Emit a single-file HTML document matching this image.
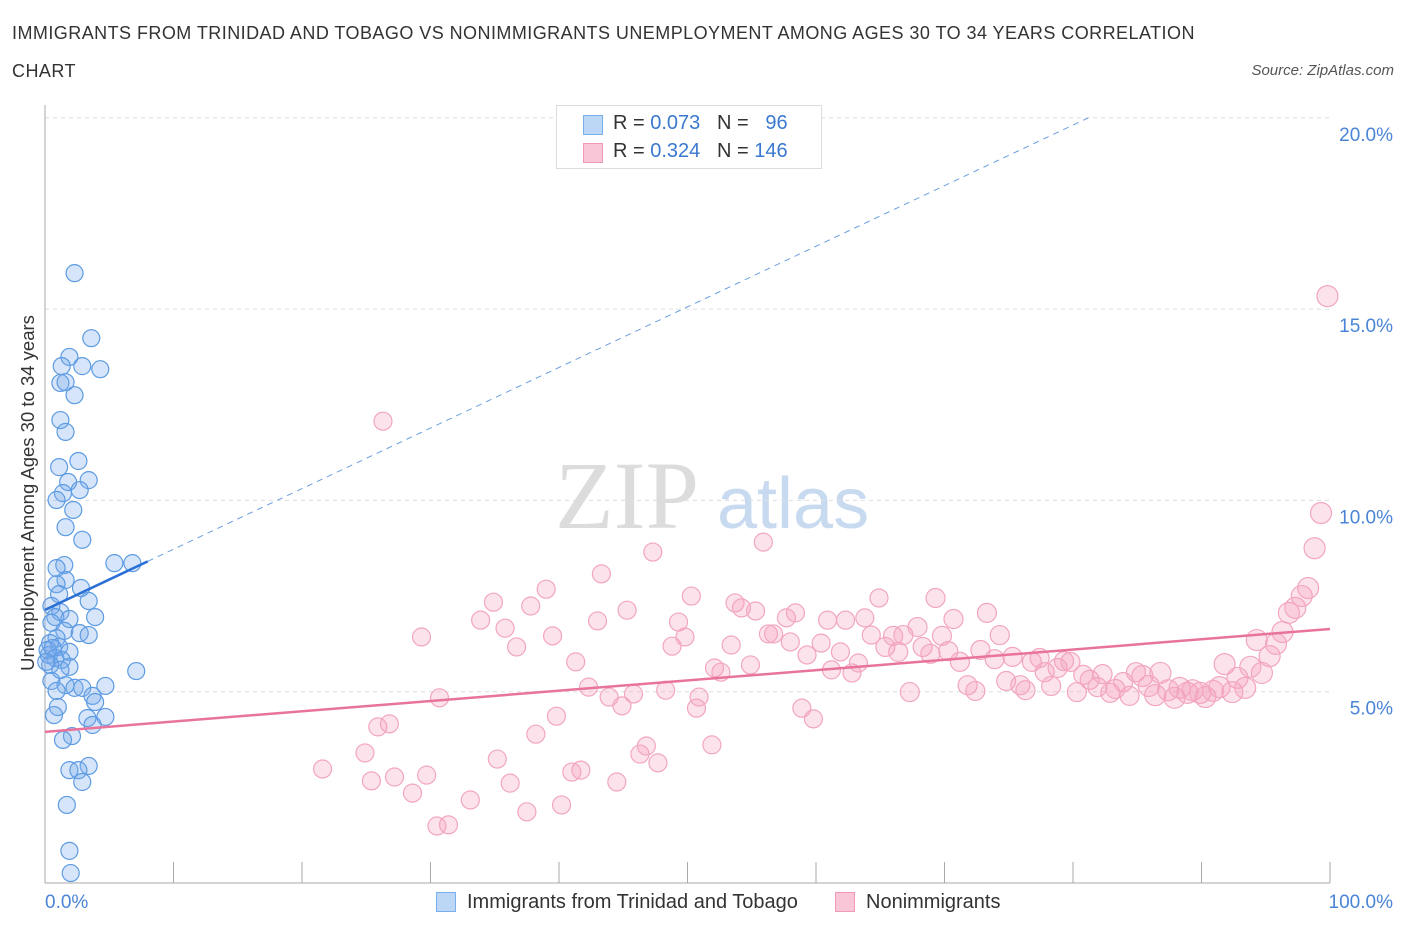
<!DOCTYPE html>
<html><head><meta charset="utf-8"><style>
body{margin:0;background:#fff;font-family:"Liberation Sans",sans-serif;}
#wrap{position:relative;width:1406px;height:930px;overflow:hidden;}
.t{position:absolute;white-space:nowrap;}
</style></head><body><div id="wrap">
<div class="t" style="left:12px;top:14px;font-size:18px;letter-spacing:0.45px;color:#333;line-height:38px;">IMMIGRANTS FROM TRINIDAD AND TOBAGO VS NONIMMIGRANTS UNEMPLOYMENT AMONG AGES 30 TO 34 YEARS CORRELATION<br>CHART</div>
<div class="t" style="right:12px;top:62px;font-size:15px;color:#555;font-style:italic;">Source: ZipAtlas.com</div>
<svg id="svg" width="1406" height="930" style="position:absolute;left:0;top:0">
<text x="555" y="528" font-family="Liberation Serif" font-size="96" fill="#dcdcdc">ZIP</text>
<text x="717" y="528" font-family="Liberation Sans" font-size="72" fill="#c8daf0">atlas</text>
</svg>
<div class="t" style="left:28px;top:493px;font-size:18.5px;color:#333;transform:translate(-50%,-50%) rotate(-90deg);">Unemployment Among Ages 30 to 34 years</div>
<div style="position:absolute;left:556px;top:105px;width:264px;height:62px;border:1px solid #ddd;background:#fff;font-size:20px;color:#333;">
 <div style="position:absolute;left:26px;top:9px;width:18px;height:18px;background:#bcd6f5;border:1px solid #7aaee8;"></div>
 <div class="t" style="left:56px;top:6px;">R = <span style="color:#3a78d0">0.073</span>&nbsp;&nbsp;&nbsp;N = &nbsp;&nbsp;<span style="color:#3a78d0">96</span></div>
 <div style="position:absolute;left:26px;top:37px;width:18px;height:18px;background:#f8c6d6;border:1px solid #f09ab8;"></div>
 <div class="t" style="left:56px;top:34px;">R = <span style="color:#3a78d0">0.324</span>&nbsp;&nbsp;&nbsp;N = <span style="color:#3a78d0">146</span></div>
</div>
<div style="position:absolute;left:436px;top:891px;font-size:20px;color:#333;">
 <div style="position:absolute;left:0;top:1px;width:18px;height:18px;background:#bcd6f5;border:1px solid #7aaee8;"></div>
 <div class="t" style="left:31px;top:0;">Immigrants from Trinidad and Tobago</div></div>
<div style="position:absolute;left:835px;top:891px;font-size:20px;color:#333;">
 <div style="position:absolute;left:0;top:1px;width:18px;height:18px;background:#f8c6d6;border:1px solid #f09ab8;"></div>
 <div class="t" style="left:31px;top:0;">Nonimmigrants</div></div>
</div>
<script>
const yTicks=[5,10,15,20];
const yTickLabels=["5.0%","10.0%","15.0%","20.0%"];
const xTickLabels=["0.0%","100.0%"];
const blueX=[2.3,3.6,1.9,1.3,2.9,4.3,1.2,1.6,2.3,1.2,1.6,2.6,1.1,3.4,1.8,2.7,1.4,0.9,2.2,1.6,2.9,5.4,6.8,1.5,0.9,1.6,0.9,2.8,1.1,3.4,0.5,1.2,0.8,1.9,3.9,0.5,1.5,2.7,3.4,0.9,0.4,1.1,1.9,0.3,0.8,1.3,0.4,1.9,7.1,0.5,1.6,2.3,2.9,4.7,0.9,3.7,3.9,1.0,0.7,3.3,4.7,3.7,2.1,1.4,3.4,1.9,2.6,2.9,1.7,1.9,2.0,0.2,0.6,1.2,0.1];
const blueY=[15.94,14.24,13.75,13.51,13.51,13.43,13.07,13.09,12.75,12.1,11.79,11.03,10.87,10.53,10.48,10.27,10.19,10.01,9.75,9.3,8.97,8.36,8.36,8.31,8.23,7.92,7.81,7.71,7.55,7.37,7.24,7.08,6.95,6.9,6.95,6.8,6.59,6.53,6.48,6.4,6.27,6.17,6.04,5.96,5.88,5.83,5.7,5.65,5.54,5.28,5.17,5.1,5.1,5.15,5.02,4.89,4.73,4.6,4.39,4.31,4.34,4.13,3.84,3.74,3.06,2.95,2.95,2.64,2.04,0.84,0.26,6.09,6.14,5.57,5.78];
const pinkX=[21.6,24.9,25.9,26.3,26.8,25.4,27.2,28.6,29.7,29.3,30.5,30.7,31.4,33.1,33.9,34.9,35.2,35.8,36.2,36.7,37.5,37.8,38.2,39.0,39.5,39.8,40.2,41.0,41.3,41.7,42.3,43.0,43.3,43.9,44.5,44.9,45.3,45.8,46.3,46.8,47.3,47.7,48.3,48.8,49.3,49.8,50.3,50.7,50.9,51.9,52.1,52.6,53.4,53.7,54.2,54.9,55.3,55.9,56.3,56.7,57.7,58.0,58.4,58.9,59.3,59.8,60.4,60.9,61.2,61.9,62.3,62.8,63.3,63.8,64.3,64.9,65.4,66.0,66.4,66.8,67.3,67.9,68.3,68.9,69.3,69.8,70.3,70.7,71.2,71.8,72.4,72.8,73.3,73.9,74.3,74.8,75.3,75.9,76.3,76.8,77.4,77.8,78.3,78.8,79.3,79.8,80.3,80.8,81.3,81.9,82.3,82.9,83.3,83.9,84.4,84.9,85.4,85.9,86.4,86.8,87.4,87.9,88.3,88.9,89.3,89.9,90.3,90.9,91.4,91.8,92.4,92.8,93.4,93.8,94.3,94.7,95.3,95.8,96.3,96.8,97.3,97.8,98.3,98.8,99.3,99.8];
const pinkY=[2.98,3.4,4.08,12.07,4.16,2.67,2.77,2.35,2.82,6.43,1.49,4.84,1.52,2.17,6.87,7.34,3.24,6.66,2.61,6.17,1.86,7.24,3.89,7.68,6.46,4.36,2.04,2.9,5.78,2.95,5.12,6.85,8.08,4.86,2.64,4.63,7.13,4.94,3.37,3.58,8.65,3.14,5.04,6.19,6.82,6.43,7.5,4.57,4.86,3.61,5.62,5.51,6.22,7.32,7.19,5.7,7.11,8.91,6.51,6.51,6.93,6.3,7.06,4.57,5.96,4.29,6.27,6.87,5.57,6.04,6.87,5.49,5.75,6.93,6.48,7.45,6.17,6.46,6.04,6.48,4.99,6.69,6.17,5.99,7.45,6.46,6.06,6.9,5.78,5.17,5.02,6.09,7.06,5.85,6.48,5.28,5.91,5.17,5.04,5.78,5.88,5.51,5.15,5.62,5.8,5.78,4.99,5.44,5.31,5.12,5.46,4.97,5.07,5.25,4.89,5.51,5.41,5.15,4.91,5.49,5.04,4.84,5.1,4.97,5.04,4.97,4.86,5.02,5.12,5.72,4.99,5.36,5.1,5.65,6.35,5.49,5.93,6.25,6.56,7.06,7.19,7.5,7.71,8.75,9.67,15.34];
const blueTrend=[7.14,20,81.2];
const pinkTrend=[3.95,6.64];
const X=v=>45+v*12.85, Y=v=>883-v*38.26;
const svg=document.getElementById('svg'),NS='http://www.w3.org/2000/svg';
function mk(t,a){const e=document.createElementNS(NS,t);for(const k in a)e.setAttribute(k,a[k]);svg.appendChild(e);return e;}
yTicks.forEach((v,i)=>{
 const g=mk('line',{x1:45,x2:1330,y1:Y(v),y2:Y(v),stroke:'#ddd','stroke-dasharray':'4,4'});
 
 
 const t=mk('text',{x:1393,y:Y(v)+23,'text-anchor':'end','font-size':19,fill:'#4a84d6','font-family':'Liberation Sans'});
 t.textContent=yTickLabels[i];
 
 
});
const ax=mk('line',{x1:45,x2:45,y1:105,y2:883,stroke:'#aaa'});


const bx=mk('line',{x1:45,x2:1330,y1:883,y2:883,stroke:'#aaa'});


for(let k=0;k<=10;k++){const l=mk('line',{x1:X(k*10),x2:X(k*10),y1:862,y2:883,stroke:'#aaa'});
 
 }
[[0,'start',45],[1,'end',1393]].forEach(([i,a,x])=>{const t=mk('text',{x:x,y:908,'text-anchor':a,'font-size':19,fill:'#4a84d6','font-family':'Liberation Sans'});t.textContent=xTickLabels[i];
 
 });
pinkX.forEach((x,i)=>{const r=x>85?10.5:(x>65?9.5:9);const c=mk('circle',{cx:X(x),cy:Y(pinkY[i]),r:r,fill:'rgba(244,160,190,0.3)',stroke:'#f2a6c0','stroke-width':1.2});
 
 });
blueX.forEach((x,i)=>{const c=mk('circle',{cx:X(x),cy:Y(blueY[i]),r:8.5,fill:'rgba(120,170,235,0.3)',stroke:'#5d9be2','stroke-width':1.2});
 
 });
const slope=(blueTrend[1]-blueTrend[0])/blueTrend[2];
const bl=mk('line',{x1:X(0),y1:Y(blueTrend[0]),x2:X(8),y2:Y(blueTrend[0]+slope*8),stroke:'#2a6fd6','stroke-width':2.5});


const bd=mk('line',{x1:X(8),y1:Y(blueTrend[0]+slope*8),x2:X(blueTrend[2]),y2:Y(blueTrend[1]),stroke:'#6a9fe0','stroke-width':1,'stroke-dasharray':'6,5'});


const pl=mk('line',{x1:X(0),y1:Y(pinkTrend[0]),x2:X(100),y2:Y(pinkTrend[1]),stroke:'#e8739c','stroke-width':2.5});


</script>
</body></html>
